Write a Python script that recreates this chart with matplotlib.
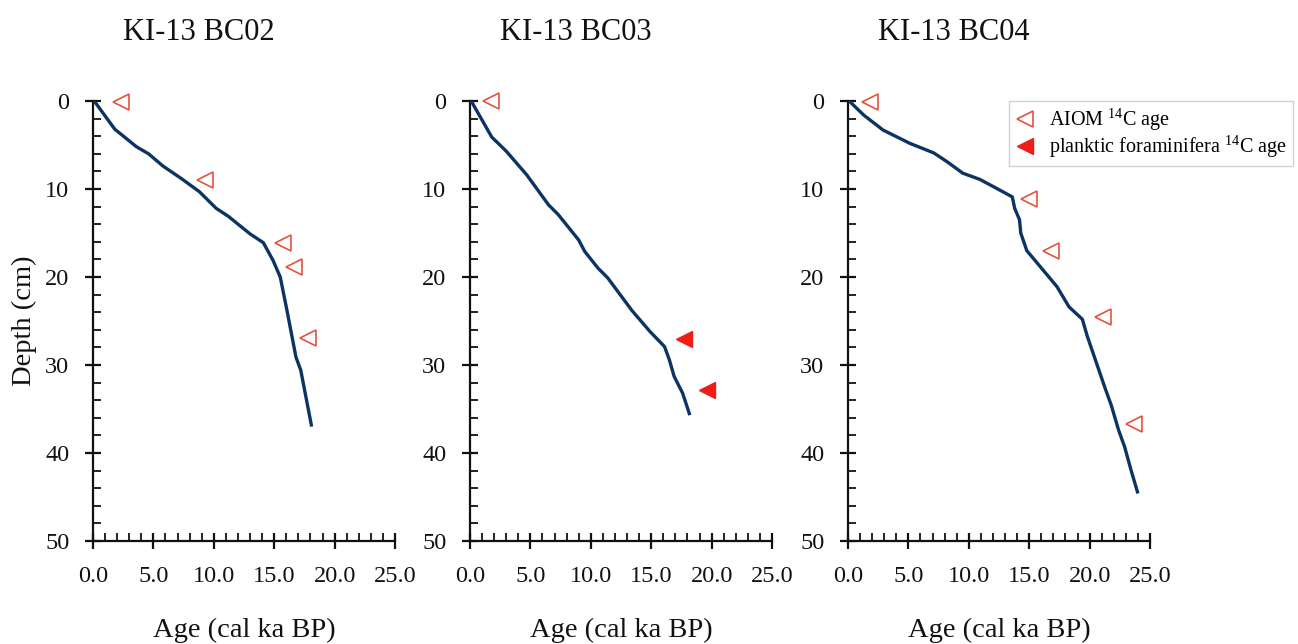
import matplotlib
matplotlib.use("Agg")
import matplotlib.pyplot as plt
from matplotlib.ticker import MultipleLocator, FormatStrFormatter

plt.rcParams['font.family'] = ['Liberation Serif', 'DejaVu Serif']
plt.rcParams['mathtext.fontset'] = 'custom'
plt.rcParams['mathtext.rm'] = 'Liberation Serif'
plt.rcParams['mathtext.it'] = 'Liberation Serif:italic'

# ---- data (age in cal ka BP, depth in cm) ----
titles = ["KI-13 BC02", "KI-13 BC03", "KI-13 BC04"]

bc02_age = [0.1, 1.8, 3.6, 4.6, 5.8, 7.3, 8.8, 10.2, 11.2, 13.0, 14.1, 14.9, 15.5, 16.0, 16.8, 17.2, 18.1]
bc02_depth = [0.0, 3.2, 5.2, 6.0, 7.4, 8.8, 10.3, 12.2, 13.1, 15.1, 16.1, 18.1, 20.0, 23.4, 29.1, 30.6, 37.0]
bc02_aiom_age = [2.3, 9.3, 15.7, 16.6, 17.8]
bc02_aiom_depth = [0.1, 9.0, 16.1, 18.9, 26.9]
bc02_foram_age = []
bc02_foram_depth = []

bc03_age = [0.1, 1.8, 3.0, 4.7, 6.5, 7.3, 9.0, 9.5, 10.6, 11.4, 13.4, 14.9, 16.1, 16.5, 16.9, 17.6, 18.2]
bc03_depth = [0.0, 4.1, 5.7, 8.4, 11.8, 12.9, 15.8, 17.1, 19.0, 20.1, 23.8, 26.2, 27.9, 29.4, 31.3, 33.2, 35.7]
bc03_aiom_age = [1.7]
bc03_aiom_depth = [0.0]
bc03_foram_age = [17.7, 19.6]
bc03_foram_depth = [27.1, 32.8]

bc04_age = [0.1, 1.3, 2.9, 5.1, 7.1, 8.2, 9.5, 10.9, 12.4, 13.6, 13.8, 14.2, 14.3, 14.8, 17.3, 18.3, 19.4, 19.8, 21.3, 21.8, 22.4, 22.9, 23.4, 24.0]
bc04_depth = [0.0, 1.6, 3.3, 4.8, 5.9, 6.9, 8.2, 8.9, 10.0, 10.9, 12.2, 13.5, 15.0, 17.0, 21.1, 23.4, 24.8, 26.7, 32.7, 34.6, 37.4, 39.3, 41.8, 44.6]
bc04_aiom_age = [1.8, 15.0, 16.8, 21.1, 23.7]
bc04_aiom_depth = [0.1, 11.1, 17.0, 24.6, 36.7]
bc04_foram_age = []
bc04_foram_depth = []

x_ticks = [0, 5, 10, 15, 20, 25]
y_ticks = [0, 10, 20, 30, 40, 50]

cores = [
    (bc02_age, bc02_depth, bc02_aiom_age, bc02_aiom_depth, bc02_foram_age, bc02_foram_depth),
    (bc03_age, bc03_depth, bc03_aiom_age, bc03_aiom_depth, bc03_foram_age, bc03_foram_depth),
    (bc04_age, bc04_depth, bc04_aiom_age, bc04_aiom_depth, bc04_foram_age, bc04_foram_depth),
]

LINE_C = '#0b3463'
AIOM_C = '#e5533f'
FORAM_C = '#ef1d16'

fig = plt.figure(figsize=(12.98, 6.44), dpi=100)
lefts = [93 / 1298, 470 / 1298, 848 / 1298]
w = 302 / 1298
b = 1 - 541 / 644
h = 440 / 644

handles = {}
for i, (left, title, core) in enumerate(zip(lefts, titles, cores)):
    age, depth, aa, ad, fa, fd = core
    ax = fig.add_axes([left, b, w, h])
    ax.plot(age, depth, color=LINE_C, lw=2.4, solid_capstyle='butt', zorder=3)
    ha = ax.plot(aa, ad, linestyle='none', marker='<', markersize=11.5,
                 markerfacecolor='none', markeredgecolor=AIOM_C, markeredgewidth=1.2,
                 label='AIOM $^{14}$C age', clip_on=False)[0]
    hf = ax.plot(fa, fd, linestyle='none', marker='<', markersize=11.5,
                 markerfacecolor=FORAM_C, markeredgecolor=FORAM_C, markeredgewidth=1.0,
                 label='planktic foraminifera $^{14}$C age', clip_on=False)[0]
    handles['a'] = ha
    handles['f'] = hf
    ax.set_xlim(0, 25)
    ax.set_ylim(50, 0)
    ax.set_xticks(x_ticks)
    ax.set_yticks(y_ticks)
    ax.xaxis.set_major_formatter(FormatStrFormatter('%.1f'))
    ax.xaxis.set_minor_locator(MultipleLocator(1))
    ax.yaxis.set_minor_locator(MultipleLocator(2))
    for s in ['top', 'right']:
        ax.spines[s].set_visible(False)
    for s in ['left', 'bottom']:
        ax.spines[s].set_linewidth(1.6)
        ax.spines[s].set_color('#111111')
    ax.tick_params(axis='x', which='major', direction='inout', length=12, width=1.6,
                   labelsize=17.5, pad=12, colors='#111111')
    ax.tick_params(axis='x', which='minor', direction='in', length=6, width=1.3, colors='#111111')
    ax.tick_params(axis='y', which='major', direction='inout', length=12, width=1.6,
                   labelsize=17.5, pad=11, colors='#111111')
    ax.tick_params(axis='y', which='minor', direction='in', length=6, width=1.3, colors='#111111')
    ax.set_xlabel('Age (cal ka BP)', fontsize=20.5, labelpad=22, color='#111111')
    if i == 0:
        ax.set_ylabel('Depth (cm)', fontsize=20.5, labelpad=6, color='#111111')
    ax.set_title(title, fontsize=22, x=0.35, y=1.0, pad=44, color='#111111')
    ax.patch.set_alpha(0)

leg = fig.legend([handles['a'], handles['f']],
                 ['AIOM $^{14}$C age', 'planktic foraminifera $^{14}$C age'],
                 loc='upper left', bbox_to_anchor=(1009 / 1298, 1 - 101 / 644),
                 fontsize=14.5, frameon=True, fancybox=False, handlelength=1.0,
                 handletextpad=0.7, borderpad=0.3, labelspacing=0.05, borderaxespad=0)
leg.get_frame().set_edgecolor('#c8c8c8')
leg.get_frame().set_linewidth(1.0)

fig.savefig('out.png', dpi=100)
